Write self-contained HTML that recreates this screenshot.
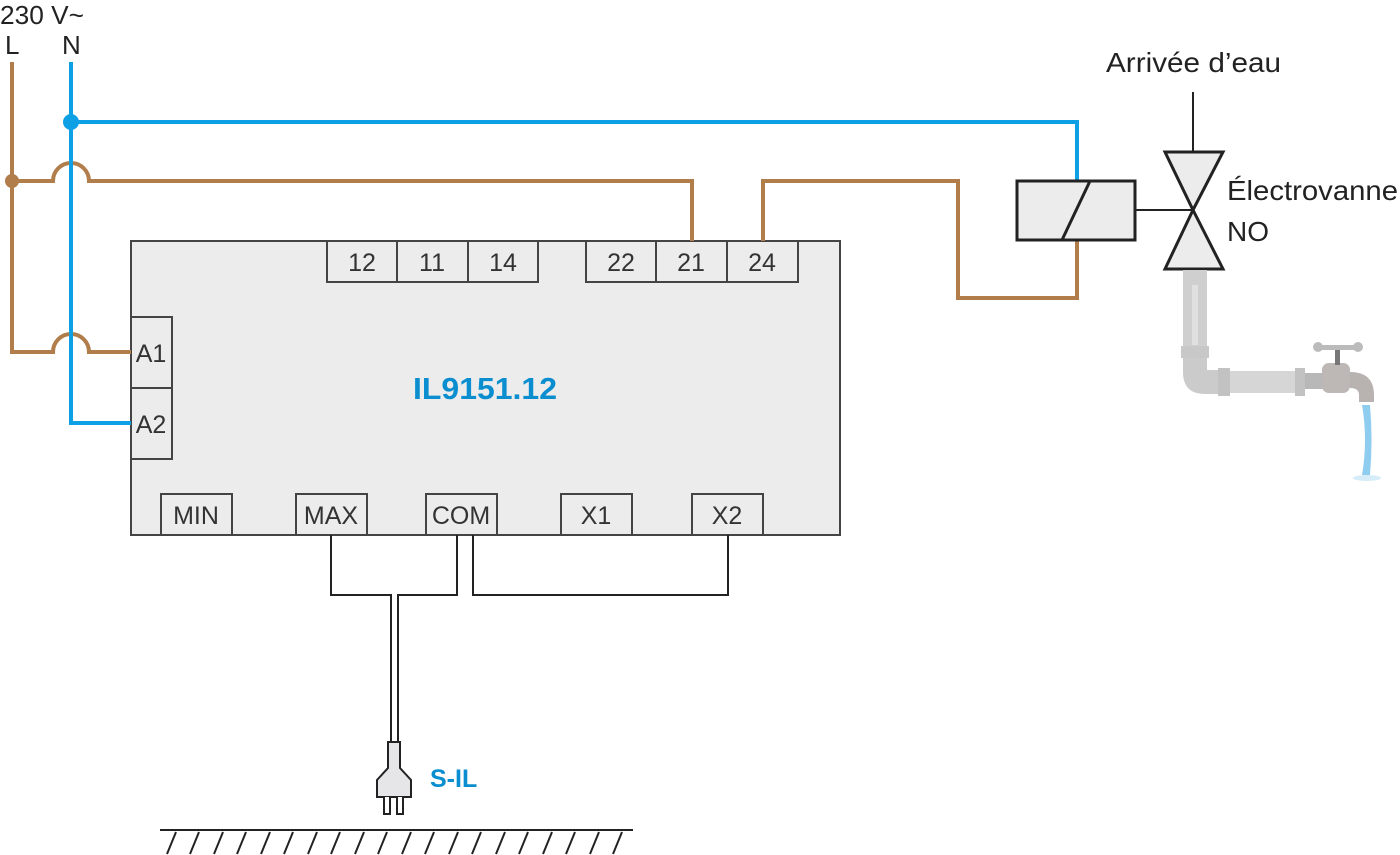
<!DOCTYPE html>
<html><head><meta charset="utf-8"><style>
html,body{margin:0;padding:0;background:#fff;}
svg{display:block;}
text{font-family:"Liberation Sans",sans-serif;}
</style></head><body>
<svg width="1400" height="855" viewBox="0 0 1400 855" xmlns="http://www.w3.org/2000/svg">
<g font-size="26" fill="#222">
<text x="0" y="24" textLength="84" lengthAdjust="spacingAndGlyphs">230 V~</text>
<text x="5" y="54">L</text>
<text x="62" y="54">N</text>
<text x="1106" y="72" font-size="28" textLength="175" lengthAdjust="spacingAndGlyphs">Arrivée d’eau</text>
<text x="1227" y="200" font-size="28" textLength="171" lengthAdjust="spacingAndGlyphs">Électrovanne</text>
<text x="1227" y="241" font-size="28">NO</text>
</g>
<!-- box -->
<rect x="131" y="241" width="709" height="294" fill="#ececec" stroke="#444" stroke-width="2"/>
<g fill="#ececec" stroke="#444" stroke-width="2">
<rect x="327" y="241" width="70" height="41"/><rect x="397" y="241" width="71" height="41"/><rect x="468" y="241" width="70" height="41"/>
<rect x="586" y="241" width="70" height="41"/><rect x="656" y="241" width="71" height="41"/><rect x="727" y="241" width="71" height="41"/>
<rect x="131" y="317" width="41" height="71"/><rect x="131" y="388" width="41" height="71"/>
<rect x="161" y="494" width="71" height="41"/><rect x="296" y="494" width="71" height="41"/><rect x="426" y="494" width="71" height="41"/>
<rect x="561" y="494" width="71" height="41"/><rect x="692" y="494" width="71" height="41"/>
</g>
<g font-size="25" fill="#333" text-anchor="middle">
<text x="362" y="271">12</text><text x="432" y="271">11</text><text x="503" y="271">14</text>
<text x="621" y="271">22</text><text x="691" y="271">21</text><text x="762" y="271">24</text>
<text x="151" y="362">A1</text><text x="151" y="433">A2</text>
<text x="196" y="524">MIN</text><text x="331" y="524">MAX</text><text x="461" y="524">COM</text>
<text x="596" y="524">X1</text><text x="727" y="524">X2</text>
</g>
<text x="485" y="399" font-size="31" font-weight="bold" fill="#0a8ed0" text-anchor="middle" textLength="144" lengthAdjust="spacingAndGlyphs">IL9151.12</text>
<!-- brown wires -->
<g fill="none" stroke="#b07d4b" stroke-width="4">
<path d="M12 62 V352 H53 A18 18 0 0 1 89 352 H131"/>
<path d="M12 181 H53 A18 18 0 0 1 89 181 H692 V241"/>
<path d="M763 241 V181 H958 V298 H1077 V240"/>
</g>
<circle cx="12" cy="181" r="7" fill="#b07d4b"/>
<!-- blue wires -->
<g fill="none" stroke="#0ea0e4" stroke-width="4">
<path d="M71 62 V423 H131"/>
<path d="M71 122 H1077 V181"/>
</g>
<circle cx="71" cy="122" r="8" fill="#0ea0e4"/>
<!-- sensor wires -->
<g fill="none" stroke="#222" stroke-width="2">
<path d="M331 535 V595 H391 V742"/>
<path d="M457 535 V595 H398 V742"/>
<path d="M473 535 V595 H728 V535"/>
</g>
<path d="M388 742 H400 V768 L411 780 V797 H377 V780 L388 768 Z" fill="#e6e6e8" stroke="#222" stroke-width="2"/>
<path d="M384 797 V814 H390 V797 M397 797 V814 H403 V797" fill="#fff" stroke="#222" stroke-width="2"/>
<text x="430" y="787" font-size="25" font-weight="bold" fill="#0a8ed0">S-IL</text>
<!-- ground -->
<line x1="160" y1="830" x2="633" y2="830" stroke="#222" stroke-width="2"/>
<g stroke="#222" stroke-width="2">
<path d="M176 832 l-9 22 M199 832 l-9 22 M223 832 l-9 22 M246 832 l-9 22 M270 832 l-9 22 M293 832 l-9 22 M317 832 l-9 22 M340 832 l-9 22 M364 832 l-9 22 M387 832 l-9 22 M411 832 l-9 22 M434 832 l-9 22 M458 832 l-9 22 M481 832 l-9 22 M505 832 l-9 22 M528 832 l-9 22 M552 832 l-9 22 M575 832 l-9 22 M599 832 l-9 22 M622 832 l-9 22"/>
</g>
<!-- coil and valve -->
<rect x="1017" y="181" width="118" height="59" fill="#ececec" stroke="#222" stroke-width="3"/>
<line x1="1062" y1="240" x2="1090" y2="181" stroke="#222" stroke-width="3"/>
<line x1="1135" y1="210" x2="1193" y2="210" stroke="#222" stroke-width="2"/>
<line x1="1193" y1="92" x2="1193" y2="152" stroke="#222" stroke-width="2"/>
<path d="M1165 152 H1223 L1193 210 Z M1193 210 L1223 269 H1165 Z" fill="#ececec" stroke="#222" stroke-width="3"/>
<!-- pipe -->
<g>
<rect x="1183" y="270" width="24" height="80" fill="#cfcfcf"/>
<rect x="1192" y="285" width="6" height="60" fill="#e0e0e0"/>
<rect x="1181" y="346" width="28" height="12" fill="#c8c8c8"/>
<path d="M1183 358 V372 Q1183 394 1205 394 H1222 V370 H1207 V358 Z" fill="#cbcbcb"/>
<rect x="1218" y="368" width="12" height="28" fill="#c2c2c2"/>
<rect x="1230" y="371" width="65" height="22" fill="#d6d6d6"/>
<rect x="1295" y="368" width="10" height="28" fill="#c2c2c2"/>
<rect x="1305" y="373" width="20" height="16" fill="#b8b8b8"/>
<rect x="1322" y="363" width="28" height="30" rx="7" fill="#bdb8b5"/>
<path d="M1350 372 Q1374 372 1374 395 V402 H1359 V395 Q1359 388 1350 388 Z" fill="#b8b3b0"/>
<rect x="1335" y="347" width="5" height="18" fill="#777"/>
<rect x="1315" y="345" width="46" height="5" rx="2" fill="#bbb"/>
<circle cx="1318" cy="347" r="5" fill="#bbb"/><circle cx="1358" cy="347" r="5" fill="#bbb"/>
<path d="M1362 405 Q1368 440 1362 475 H1370 Q1373 440 1370 405 Z" fill="#8fcdf0"/>
<ellipse cx="1367" cy="478" rx="14" ry="3" fill="#d6ecf8"/>
</g>
</svg>
</body></html>
